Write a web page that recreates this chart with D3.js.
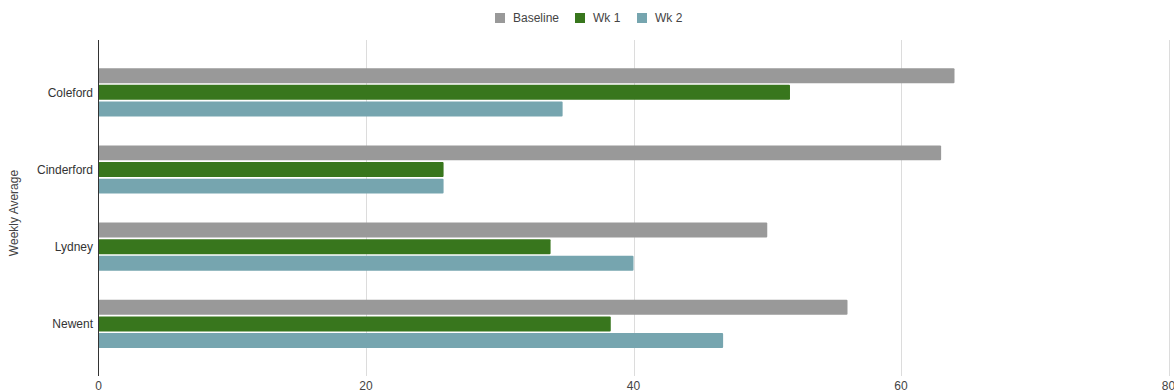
<!DOCTYPE html>
<html>
<head>
<meta charset="utf-8">
<script src="https://cdn.jsdelivr.net/npm/d3@7"></script>
<style>
  html, body { margin: 0; padding: 0; background: #fff; }
  svg { display: block; font-family: "Liberation Sans", Arial, sans-serif; }
</style>
</head>
<body>
<svg id="chart" width="1174" height="392"></svg>
<script>
// Towns shown on the vertical axis
const towns = ["Coleford", "Cinderford", "Lydney", "Newent"];
// Series names and their values per town
const seriesNames = ["Baseline", "Wk 1", "Wk 2"];
const baseline = [64, 63, 50, 56];
const wk1 = [51.7, 25.8, 33.8, 38.3];
const wk2 = [34.7, 25.8, 40, 46.7];
const xTicks = [0, 20, 40, 60, 80];
const colors = ["#999999", "#38761d", "#76a5af"];

const seriesValues = [baseline, wk1, wk2];
const rows = towns.map((t, i) => ({
  town: t,
  values: seriesNames.map((s, k) => ({ series: s, value: seriesValues[k][i] }))
}));

const svg = d3.select("#chart");
const plotTop = 40, plotBottom = 376;

const x = d3.scaleLinear().domain([0, 80]).range([98.5, 1168.5]);

const pad = 29 / 77.2;
const y = d3.scaleBand().domain(towns).range([53.7, 362.5])
  .paddingInner(pad).paddingOuter(pad / 2);
const ySub = d3.scaleBand().domain(seriesNames).range([0, y.bandwidth()])
  .paddingInner(0.1).paddingOuter(0);
const color = d3.scaleOrdinal().domain(seriesNames).range(colors);

// Vertical gridlines
svg.append("g")
  .selectAll("line")
  .data(xTicks.filter(d => d !== 0))
  .join("line")
  .attr("x1", d => Math.round(x(d)) + 0.5)
  .attr("x2", d => Math.round(x(d)) + 0.5)
  .attr("y1", plotTop)
  .attr("y2", plotBottom)
  .attr("stroke", "#dcdcdc")
  .attr("stroke-width", 1);

// Bars
const groups = svg.append("g")
  .selectAll("g")
  .data(rows)
  .join("g")
  .attr("transform", d => `translate(0,${y(d.town)})`);

groups.selectAll("rect")
  .data(d => d.values)
  .join("rect")
  .attr("x", x(0))
  .attr("y", d => ySub(d.series))
  .attr("width", d => x(d.value) - x(0))
  .attr("height", ySub.bandwidth())
  .attr("rx", 1)
  .attr("fill", d => color(d.series));

// Baseline axis line at zero
svg.append("line")
  .attr("x1", 98.5).attr("x2", 98.5)
  .attr("y1", plotTop).attr("y2", plotBottom)
  .attr("stroke", "#333").attr("stroke-width", 1);

// X tick labels
svg.append("g")
  .selectAll("text")
  .data(xTicks)
  .join("text")
  .attr("x", d => x(d))
  .attr("y", 390)
  .attr("text-anchor", "middle")
  .attr("font-size", 12)
  .attr("fill", "#444")
  .text(d => d);

// Category labels
svg.append("g")
  .selectAll("text")
  .data(towns)
  .join("text")
  .attr("x", 93)
  .attr("y", d => y(d) + y.bandwidth() / 2)
  .attr("dy", "0.35em")
  .attr("text-anchor", "end")
  .attr("font-size", 12)
  .attr("fill", "#333")
  .text(d => d);

// Axis title
svg.append("text")
  .attr("transform", "translate(18,213) rotate(-90)")
  .attr("text-anchor", "middle")
  .attr("font-size", 12)
  .attr("fill", "#444")
  .text("Weekly Average");

// Legend
const legendItems = [
  { name: seriesNames[0], x: 495 },
  { name: seriesNames[1], x: 575 },
  { name: seriesNames[2], x: 637 }
];
const legend = svg.append("g")
  .selectAll("g")
  .data(legendItems)
  .join("g")
  .attr("transform", d => `translate(${d.x},13)`);
legend.append("rect")
  .attr("width", 10).attr("height", 10)
  .attr("fill", d => color(d.name));
legend.append("text")
  .attr("x", 18).attr("y", 5)
  .attr("dy", "0.35em")
  .attr("font-size", 12)
  .attr("fill", "#444")
  .text(d => d.name);
</script>
</body>
</html>
